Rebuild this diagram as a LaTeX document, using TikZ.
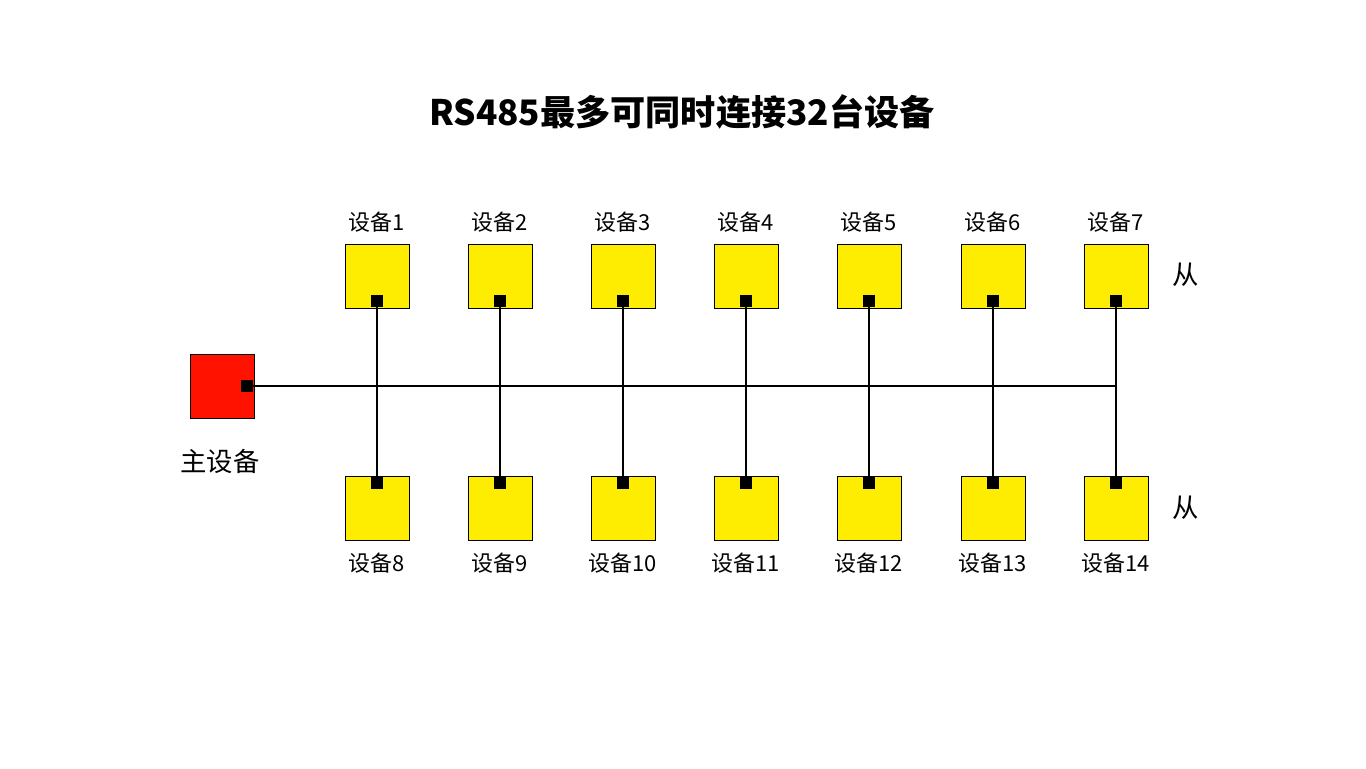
\documentclass[tikz,border=0pt]{standalone}
\usepackage{fontspec}
\setmainfont{Noto Sans CJK SC}
\usetikzlibrary{calc, positioning}

\begin{document}
\begin{tikzpicture}[x=0.02cm, y=-0.02cm]
\tikzstyle{dev_box}=[rectangle, draw, fill=yellow!95!orange, minimum size=1.28cm, inner sep=0pt]
\tikzstyle{main_box}=[rectangle, draw, fill=red!85!orange, minimum size=1.28cm, inner sep=0pt]
\tikzstyle{chip}=[rectangle, fill=black, minimum size=0.24cm, inner sep=0pt]
\tikzstyle{lbl}=[font=\fontsize{12.5}{14}\selectfont]
\useasboundingbox (0,0) rectangle (1366,768);

\node at (682,112) (Title) {\fontsize{20}{24}\selectfont\bfseries RS485最多可同时连接32台设备};

\node at (222,386) [main_box] (Master) {};
\node at (247,386) [chip] (MasterChip) {};
\node at (220,461) [lbl, font=\fontsize{15}{18}\selectfont] (MasterLbl) {主设备};
\coordinate (BusEnd) at (1117,386);
\draw[line width=1.5pt] (MasterChip) -- (BusEnd);

\foreach \x [count=\i] in {377,500,623,746,869,993,1116} {
	\pgfmathtruncatemacro{\j}{\i+7}
	\node at (\x,276) [dev_box] (Top\i) {};
	\node at (\x,301) [chip] (TopChip\i) {};
	\node at (\x,222) [lbl] (TopLbl\i) {设备\i};
	\node at (\x,508) [dev_box] (Bot\i) {};
	\node at (\x,483) [chip] (BotChip\i) {};
	\node at (\x,563) [lbl] (BotLbl\i) {设备\j};
	\draw[line width=1.5pt] (TopChip\i) -- (BotChip\i);
}

\node at (1186,275) [lbl, font=\fontsize{15}{18}\selectfont] (SlaveTop) {从};
\node at (1186,508) [lbl, font=\fontsize{15}{18}\selectfont] (SlaveBot) {从};

\end{tikzpicture}
\end{document}
